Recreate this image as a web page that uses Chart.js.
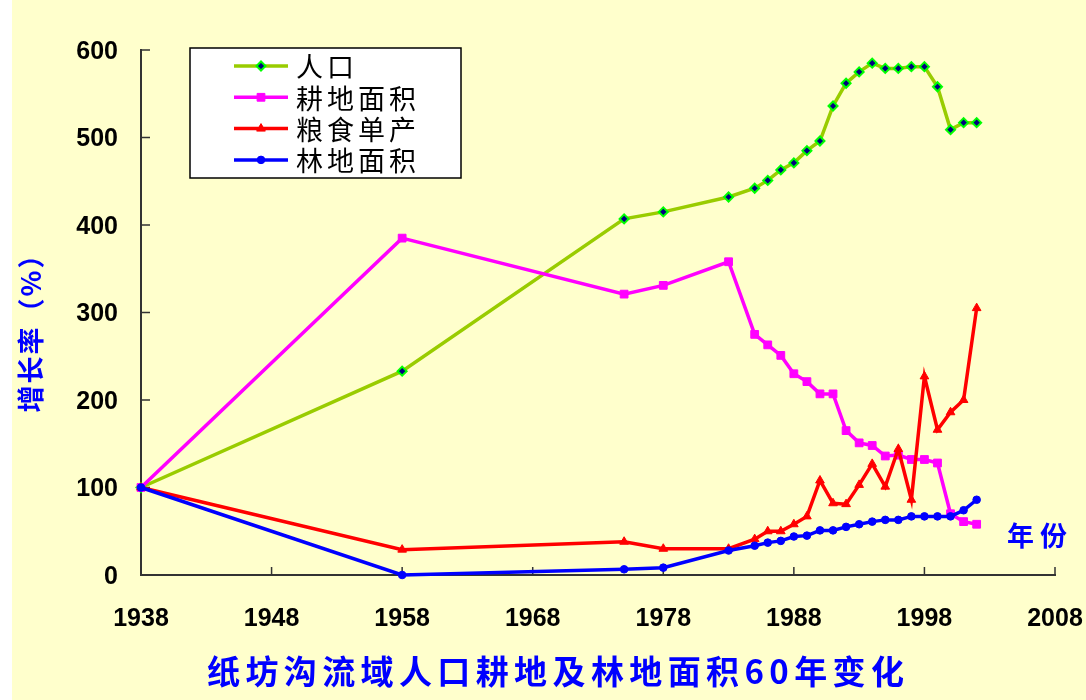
<!DOCTYPE html>
<html lang="zh">
<head>
<meta charset="utf-8">
<title>纸坊沟流域人口耕地及林地面积60年变化</title>
<script src="https://cdn.jsdelivr.net/npm/chart.js@4.4.1/dist/chart.umd.min.js"></script>
<style>
  html, body { margin: 0; padding: 0; background: #ffffcc; }
  #wrap { width: 1086px; height: 700px; }
</style>
</head>
<body>
<div id="wrap"><canvas id="growth-chart" width="1086" height="700"></canvas></div>
<script>
// --- 数据：各项增长率（%），1938年 = 100 ---
const years = [1938, 1958, 1975, 1978, 1983, 1985, 1986, 1987, 1988, 1989, 1990, 1991,
               1992, 1993, 1994, 1995, 1996, 1997, 1998, 1999, 2000, 2001, 2002];
const population = [100, 233, 407, 415, 432, 442, 451, 463, 471, 485, 496, 536,
                    562, 575, 585, 579, 579, 581, 581, 558, 509, 517, 517];
const cropland = [100, 385, 321, 331, 358, 275, 263, 251, 230, 221, 207, 207,
                  165, 151, 148, 136, 137, 132, 132, 128, 70, 61, 58];
const grainYield = [100, 29, 38, 30, 30, 41, 50, 50, 58, 67, 108, 82,
                    81, 103, 127, 101, 144, 86, 227, 166, 186, 200, 305];
const forestland = [100, 0, 6.5, 8.4, 28, 33.5, 37, 39, 44, 45, 51, 51,
                    55, 58, 61, 63, 63, 67, 67, 67, 67, 74, 86];
const seriesNames = ['人口', '耕地面积', '粮食单产', '林地面积'];
const xTickValues = [1938, 1948, 1958, 1968, 1978, 1988, 1998, 2008];
const yTickValues = [0, 100, 200, 300, 400, 500, 600];

const chartTitle = '纸坊沟流域人口耕地及林地面积60年变化';
const yAxisTitle = '增长率（%）';
const xAxisTitle = '年份';

const BG = '#ffffcc';
const AXIS = '#333333';
const BLUE_TEXT = '#0000ff';
const CJK = '"Noto Sans CJK SC", "Noto Sans", sans-serif';

const toPoints = vals => years.map((yr, i) => ({ x: yr, y: vals[i] }));

function makeSeries(label, values, style) {
    return Object.assign({
        label: label,
        data: toPoints(values),
        borderWidth: 3.5,
        tension: 0,
        clip: false,
        pointBorderWidth: 1
    }, style);
}

const datasets = [
    makeSeries(seriesNames[0], population, {
        borderColor: '#99cc00', pointStyle: 'rectRot', pointRadius: 4.5,
        pointBackgroundColor: '#000080', pointBorderColor: '#00ff00', pointBorderWidth: 2, order: 4
    }),
    makeSeries(seriesNames[1], cropland, {
        borderColor: '#ff00ff', pointStyle: 'rect', pointRadius: 5.5,
        pointBackgroundColor: '#ff00ff', pointBorderColor: '#ff00ff', order: 3
    }),
    makeSeries(seriesNames[2], grainYield, {
        borderColor: '#ff0000', pointStyle: 'triangle', pointRadius: 5,
        pointBackgroundColor: '#ff0000', pointBorderColor: '#ff0000', order: 2
    }),
    makeSeries(seriesNames[3], forestland, {
        borderColor: '#0000ff', pointStyle: 'circle', pointRadius: 3.8,
        pointBackgroundColor: '#0000ff', pointBorderColor: '#0000ff', order: 1
    })
];

// background, inward tick marks, legend box and the free text labels
const decorations = {
    id: 'decorations',
    beforeDraw(chart) {
        const ctx = chart.ctx;
        ctx.save();
        ctx.fillStyle = BG;
        ctx.fillRect(0, 0, chart.width, chart.height);
        ctx.fillStyle = '#ffffff';
        ctx.fillRect(0, 0, 12, chart.height);
        ctx.restore();
    },
    beforeDatasetsDraw(chart) {
        const ctx = chart.ctx;
        const xs = chart.scales.x, ys = chart.scales.y;
        ctx.save();
        ctx.strokeStyle = AXIS;
        ctx.lineWidth = 1.5;
        ctx.beginPath();
        xTickValues.forEach(v => {
            const px = xs.getPixelForValue(v);
            ctx.moveTo(px, ys.bottom);
            ctx.lineTo(px, ys.bottom - 8);
        });
        yTickValues.forEach(v => {
            const py = ys.getPixelForValue(v);
            ctx.moveTo(xs.left, py);
            ctx.lineTo(xs.left + 9, py);
        });
        ctx.stroke();
        ctx.restore();
    },
    afterDraw(chart) {
        const ctx = chart.ctx;
        ctx.save();

        // legend
        const box = { x: 190, y: 48, w: 271, h: 130 };
        ctx.fillStyle = '#ffffff';
        ctx.fillRect(box.x, box.y, box.w, box.h);
        ctx.strokeStyle = '#000000';
        ctx.lineWidth = 1.5;
        ctx.strokeRect(box.x, box.y, box.w, box.h);
        ctx.font = '27px ' + CJK;
        ctx.letterSpacing = '4px';
        ctx.textAlign = 'left';
        ctx.textBaseline = 'middle';
        chart.data.datasets.forEach((ds, i) => {
            const rowY = 66 + i * 31.3;
            ctx.strokeStyle = ds.borderColor;
            ctx.lineWidth = 3.5;
            ctx.beginPath();
            ctx.moveTo(234, rowY);
            ctx.lineTo(288, rowY);
            ctx.stroke();
            ctx.fillStyle = ds.pointBackgroundColor;
            ctx.strokeStyle = ds.pointBorderColor;
            ctx.lineWidth = ds.pointBorderWidth;
            Chart.helpers.drawPoint(ctx, {
                pointStyle: ds.pointStyle, radius: ds.pointRadius,
                rotation: 0, borderWidth: ds.pointBorderWidth
            }, 261, rowY);
            ctx.fillStyle = '#000000';
            ctx.fillText(ds.label, 296, rowY + 1);
        });

        // chart title, spread to its full width
        ctx.fillStyle = BLUE_TEXT;
        ctx.font = 'bold 33px ' + CJK;
        ctx.letterSpacing = '0px';
        const rawW = ctx.measureText(chartTitle).width;
        const spacing = (697 - rawW) / (chartTitle.length - 1);
        ctx.letterSpacing = spacing.toFixed(2) + 'px';
        ctx.textAlign = 'left';
        ctx.fillText(chartTitle, 207, 671);

        // x axis name
        ctx.font = 'bold 27px ' + CJK;
        ctx.letterSpacing = '6px';
        ctx.fillText(xAxisTitle, 1007, 536);

        // y axis name, rotated
        ctx.letterSpacing = '2px';
        ctx.font = 'bold 27px ' + CJK;
        ctx.translate(31, 326);
        ctx.rotate(-Math.PI / 2);
        ctx.textAlign = 'center';
        ctx.fillText(yAxisTitle, 0, 0);

        ctx.restore();
    }
};

const tickFont = { family: '"Liberation Sans", Arial, sans-serif', weight: 'bold', size: 25 };

new Chart(document.getElementById('growth-chart'), {
    type: 'line',
    data: { datasets: datasets },
    options: {
        responsive: false,
        animation: false,
        devicePixelRatio: 1,
        layout: { padding: { left: 0, top: 50, right: 31, bottom: 0 } },
        plugins: {
            legend: { display: false },
            tooltip: { enabled: false },
            title: { display: false }
        },
        scales: {
            x: {
                type: 'linear',
                min: 1938,
                max: 2008,
                afterBuildTicks: s => { s.ticks = xTickValues.map(v => ({ value: v })); },
                afterFit: s => { s.height = 125; s.paddingLeft = 0; s.paddingRight = 0; },
                grid: { display: false, drawTicks: false },
                border: { display: true, color: AXIS, width: 2 },
                ticks: {
                    font: tickFont, color: '#000000', padding: 29,
                    maxRotation: 0, autoSkip: false,
                    callback: v => String(v)
                }
            },
            y: {
                min: 0,
                max: 600,
                afterBuildTicks: s => { s.ticks = yTickValues.map(v => ({ value: v })); },
                afterFit: s => { s.width = 141; s.paddingTop = 0; s.paddingBottom = 0; },
                grid: { display: false, drawTicks: false },
                border: { display: true, color: AXIS, width: 2 },
                ticks: { font: tickFont, color: '#000000', padding: 23, labelOffset: 2 }
            }
        }
    },
    plugins: [decorations]
});
</script>
</body>
</html>
